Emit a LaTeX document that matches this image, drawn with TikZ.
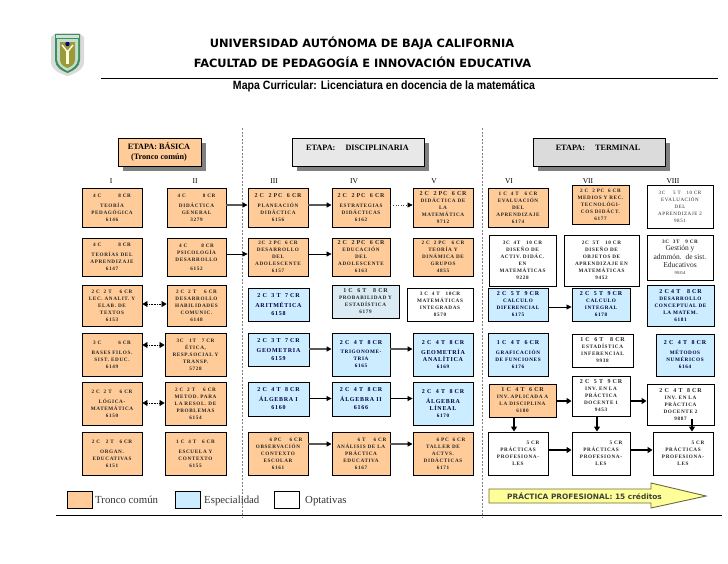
\documentclass[tikz,border=0pt]{standalone}
\usepackage{fontspec}
\setmainfont{Liberation Serif}
\newfontfamily\cf[LetterSpace=12]{Liberation Serif}
\newfontfamily\hf{DejaVu Sans}
\newfontfamily\tf{Liberation Sans}
\usetikzlibrary{arrows.meta}
\definecolor{tronco}{HTML}{FFCC99}
\definecolor{espec}{HTML}{CCECFF}
\definecolor{probc}{HTML}{DAEBF3}
\definecolor{arrowy}{HTML}{FFFF99}
\definecolor{olive}{HTML}{6B6B3A}
\definecolor{logog}{HTML}{3E8F5E}
\definecolor{logoo}{HTML}{9A9A3A}
\newcommand\hd[1]{{\fontsize{6}{7}\selectfont #1}}
\tikzset{
  cellbox/.style={draw=black,line width=0.9pt,inner sep=0pt,align=center,
    font=\cf\bfseries\fontsize{5.2}{7}\selectfont,text=black!85},
  org/.style={fill=tronco},
  blu/.style={fill=espec,text=black!75!blue},
  blub/.style={blu,font=\cf\bfseries\fontsize{6}{8}\selectfont},
  prb/.style={fill=probc},
  wht/.style={fill=white},
  arr/.style={line width=0.8pt,-{Triangle[length=5pt,width=5pt]}},
  arrg/.style={line width=1.3pt,draw=black!65,-{Triangle[length=5pt,width=5pt,color=black]}},
  arrb/.style={line width=1.8pt,-{Triangle[length=5pt,width=6pt]}},
  arrd/.style={line width=0.6pt,dotted,draw=black!70,-{Triangle[length=5pt,width=5pt,color=black]}},
  arrdd/.style={line width=0.6pt,densely dotted,{Triangle[length=5pt,width=6pt]}-{Triangle[length=5pt,width=6pt]}},
  sep/.style={draw=black!50,line width=0.45pt,dash pattern=on 2pt off 1.5pt},
  etapa/.style={draw=black,line width=0.8pt,inner sep=0pt,align=center},
  etxt/.style={inner sep=0pt,align=center,font=\bfseries\fontsize{8.2}{10}\selectfont},
  numeral/.style={font=\fontsize{7.5}{9}\selectfont,inner sep=0pt},
  legbox/.style={draw=black,line width=0.8pt,minimum width=25pt,minimum height=16.5pt,inner sep=0pt},
  legtxt/.style={font=\fontsize{10.8}{12}\selectfont,anchor=base west,inner sep=0pt,text=black!80},
  ttl/.style={inner sep=0pt,font=\hf\bfseries\fontsize{11.4}{13}\selectfont},
  rule/.style={draw=black,line width=0.8pt}
}
\newcommand\cell[7]{\node[cellbox,#6,minimum width={(#4-#2)*1pt},minimum height={(#5-#3)*1pt}]
  (#1) at ({(#2+#4)/2},{(#3+#5)/2}) {#7};}
\newcommand\etapabox[6]{%
  \fill[black!50] (#2+5,#3+5) rectangle (#4+5,#5+5);
  \node[etapa,#6] (#1) at ({(#2+#4)/2},{(#3+#5)/2}) [minimum width={(#4-#2)*1pt},minimum height={(#5-#3)*1pt}] {};}
\newcommand\hconn[4]{\draw[#1] (#2.east |- 0,#4) -- (#3.west |- 0,#4);}
\begin{document}
\begin{tikzpicture}[x=1pt,y=-1pt]
\useasboundingbox (0,0) rectangle (728,563);
% logo
\fill[black!14] (51,37) -- (56,33) -- (79,33) -- (84,37) -- (84,62) .. controls (84,70) and (74,74) .. (67.5,76) .. controls (61,74) and (51,70) .. (51,62) -- cycle;
\fill[logog] (55,34) -- (80,34) -- (80,60) .. controls (80,67) and (73,71) .. (67.5,73) .. controls (62,71) and (55,67) .. (55,60) -- cycle;
\fill[white!75!logog] (56,35) rectangle (79,38);
\fill[white!70!logog] (57,39) -- (78,39) -- (78,59) .. controls (78,65) and (72,69) .. (67.5,71) .. controls (63,69) and (57,65) .. (57,59) -- cycle;
\fill[logoo] (60,42) -- (75,42) -- (75,60) .. controls (75,65) and (70,67) .. (67.5,68) .. controls (65,67) and (60,65) .. (60,60) -- cycle;
\fill[blue!55!black] (67.5,44) circle (2.2);
\draw[white!85!yellow,line width=1.5pt] (62,45) -- (67.5,52) -- (73,45);
\draw[white!85!yellow,line width=2.2pt] (67.5,50) -- (67.5,64);
% titles
\node[ttl] (t1) at (362,43) {UNIVERSIDAD AUTÓNOMA DE BAJA CALIFORNIA};
\node[ttl] (t2) at (362.5,62) {FACULTAD DE PEDAGOGÍA E INNOVACIÓN EDUCATIVA};
\coordinate (rl) at (101,78);\coordinate (rr) at (718,78);
\draw[rule] (rl) -- (rr);
\node[inner sep=0pt,font=\tf\bfseries,xscale=.88] (t3) at (384,86) {\fontsize{12}{14}\selectfont Mapa Curricular: Licenciatura en docencia de la matemática};
% separators
\coordinate (s1a) at (242,128);\coordinate (s1b) at (242,517);
\coordinate (s2a) at (482,128);\coordinate (s2b) at (482,517);
\draw[sep] (s1a) -- (s1b);
\draw[sep] (s2a) -- (s2b);
\coordinate (bl) at (56,515);\coordinate (br) at (722,515);
\draw[rule] (bl) -- (br);
% etapas
\etapabox{eb}{118}{138}{201}{166}{fill=tronco}
\etapabox{ed}{292}{138}{424}{166}{fill=black!9}
\etapabox{et}{533}{138}{665}{166}{fill=black!14}
\node[etxt] (ebt) at (159,152) {ETAPA: BÁSICA\\(Tronco común)};
\node[etxt] (edt) at (357.5,147.5) {ETAPA:\hspace{8pt} DISCIPLINARIA};
\node[etxt] (ett) at (598,147.5) {ETAPA:\hspace{8pt} TERMINAL};
% numerals
\foreach \nm/\nx in {I/111,II/195,III/274,IV/354,V/434,VI/509,VII/588,VIII/673}
  \node[numeral] (n\nm) at (\nx,181) {\nm};
% row 1
\cell{a1}{82}{188}{142}{227}{org}{4 C\hspace{17pt}8 CR\\[3pt]TEORÍA\\PEDAGÓGICA\\6146}
\cell{b1}{167}{188}{226}{227}{org}{4 C\hspace{17pt}8 CR\\[3pt]DIDÁCTICA\\GENERAL\\3279}
\cell{c1}{248}{188}{308}{227}{org}{\hd{2 C\ \ 2 PC\ \ 6 CR}\\[3pt]PLANEACIÓN\\DIDÁCTICA\\6156}
\cell{d1}{332}{188}{390}{227}{org}{\hd{2 C\ \ 2 PC\ \ 6 CR}\\[3pt]ESTRATEGIAS\\DIDÁCTICAS\\6162}
\cell{e1}{413}{188}{473}{227}{org}{\hd{2 C\ \ 2 PC\ \ 6 CR}\\DIDÁCTICA DE\\LA\\MATEMÁTICA\\9712}
\cell{f1}{488}{188}{548}{227}{org}{1 C\ \ 4 T\ \ \ 6 CR\\EVALUACIÓN\\DEL\\APRENDIZAJE\\6174}
\cell{g1}{572}{185}{629}{224}{org}{2 C\ \ 2 PC\ \ 6 CR\\MEDIOS Y REC.\\TECNOLÓGI-\\COS DIDÁCT.\\6177}
\cell{h1}{647}{185}{713}{228}{wht,font=\cf\fontsize{5}{7}\selectfont}{3C\hspace{8pt}5 T\hspace{6pt}10 CR\\EVALUACIÓN\\DEL\\APRENDIZAJE 2\\9851}
% row 2
\cell{a2}{82}{238}{142}{276}{org}{4 C\hspace{17pt}8 CR\\[3pt]TEORÍAS DEL\\APRENDIZAJE\\6147}
\cell{b2}{167}{238}{226}{276}{org}{4 C\hspace{14pt}8 CR\\PSICOLOGÍA\\DESARROLLO\\[2pt]6152}
\cell{c2}{248}{238}{308}{276}{org}{2C\ \ 2 PC\ \ 6 CR\\DESARROLLO\\DEL\\ADOLESCENTE\\6157}
\cell{d2}{332}{238}{390}{276}{org}{\hd{2 C\ \ 2 PC\ \ 6 CR}\\EDUCACIÓN\\DEL\\ADOLESCENTE\\6163}
\cell{e2}{413}{238}{473}{276}{org}{2 C\ \ 2 PC\ \ \ 6 CR\\TEORÍA Y\\DINÁMICA DE\\GRUPOS\\4855}
\cell{f2}{489}{235}{556}{286}{wht}{3C\ \ 4T\ \ \ 10 CR\\DISEÑO DE\\ACTIV. DIDÁC.\\EN\\MATEMÁTICAS\\9228}
\cell{g2}{564}{235}{639}{286}{wht}{2C\ \ 5T\ \ \ 10 CR\\DISEÑO DE\\OBJETOS DE\\APRENDIZAJE EN\\MATEMÁTICAS\\9452}
\cell{h2}{647}{235}{713}{280}{wht}{3C\ \ 3T\ \ \ 9 CR\\{\fontspec{Liberation Serif}\mdseries\fontsize{7.5}{10}\selectfont Gestión y}\\[2pt]{\fontspec{Liberation Serif}\mdseries\fontsize{7.5}{10}\selectfont admmón.\ \ de sist.}\\[1pt]{\fontspec{Liberation Serif}\mdseries\fontsize{7.5}{10}\selectfont Educativos}\\{\mdseries\fontsize{4.5}{6}\selectfont 9804}}
% row 3
\cell{a3}{82}{285}{142}{326}{org}{2 C\ \ 2 T\hspace{8pt}6 CR\\LEC. ANALIT. Y\\ELAB. DE\\TEXTOS\\6153}
\cell{b3}{167}{285}{226}{326}{org}{2 C\ \ 2 T\hspace{8pt}6 CR\\DESARROLLO\\HABILIDADES\\COMUNIC.\\6148}
\cell{c3}{248}{288}{309}{321}{blub}{2 C\ \ 3 T\ \ 7 CR\\[2pt]ARITMÉTICA\\6158}
\cell{d3}{332}{285}{399}{318}{prb}{\hd{1 C\ \ 6 T\ \ \ 8 CR}\\PROBABILIDAD Y\\ESTADÍSTICA\\6179}
\cell{e3}{407}{288}{473}{321}{wht}{3 C\ \ 4 T\ \ \ 10CR\\MATEMÁTICAS\\INTEGRADAS\\8570}
\cell{f3}{488}{288}{548}{321}{blu}{\hd{2 C\ \ 5 T\ \ 9 CR}\\CALCULO\\DIFERENCIAL\\6175}
\cell{g3}{572}{288}{630}{321}{blu}{\hd{2 C\ \ 5 T\ \ 9 CR}\\CALCULO\\INTEGRAL\\6178}
\cell{h3}{647}{285}{714}{326}{blu}{\hd{2 C 4 T\ \ \ 8 CR}\\DESARROLLO\\CONCEPTUAL DE\\LA MATEM.\\6181}
% row 4
\cell{a4}{82}{333}{142}{376}{org}{3 C\hspace{17pt}6 CR\\[3pt]BASES FILOS.\\SIST. EDUC.\\6149}
\cell{b4}{165}{333}{226}{376}{org}{3C\ \ \ 1T\ \ \ 7 CR\\ÉTICA,\\RESP.SOCIAL Y\\TRANSP.\\5728}
\cell{c4}{248}{333}{309}{366}{blub}{2 C\ \ 3 T\ \ 7 CR\\[2pt]GEOMETRIA\\6159}
\cell{d4}{332}{333}{390}{376}{blu}{\hd{2 C\ \ 4 T\ \ 8 CR}\\[2pt]TRIGONOME-\\TRIA\\6165}
\cell{e4}{413}{333}{473}{376}{blu}{\hd{2 C\ \ 4 T\ \ 8 CR}\\[3pt]\hd{GEOMETRÍA}\\\hd{ANALÍTICA}\\6169}
\cell{f4}{488}{333}{548}{376}{blu}{\hd{1 C\ \ 4 T\ \ 6 CR}\\[3pt]GRAFICACIÓN\\DE FUNCIONES\\6176}
\cell{g4}{572}{334}{633}{367}{wht}{\hd{1 C\ \ 6 T\ \ \ 8 CR}\\ESTADÍSTICA\\INFERENCIAL\\9938}
\cell{h4}{656}{334}{714}{376}{blu}{\hd{2 C\ \ 4 T\ \ 8 CR}\\[3pt]MÉTODOS\\NUMÉRICOS\\6164}
% row 5
\cell{a5}{82}{382}{142}{425}{org}{2 C\ \ 2 T\hspace{8pt}6 CR\\[3pt]LÓGICA-\\MATEMÁTICA\\6150}
\cell{b5}{165}{382}{226}{425}{org}{2 C\ \ 2 T\hspace{8pt}6 CR\\METOD. PARA\\LA RESOL. DE\\PROBLEMAS\\6154}
\cell{c5}{248}{382}{309}{416}{blub}{2 C\ \ 4 T\ \ 8 CR\\[2pt]ÁLGEBRA I\\6160}
\cell{d5}{332}{382}{390}{416}{blub}{2 C\ \ 4 T\ \ 8 CR\\[2pt]ÁLGEBRA II\\6166}
\cell{e5}{413}{382}{473}{425}{blu}{\hd{2 C\ \ 4 T\ \ 8 CR}\\[3pt]\hd{ÁLGEBRA}\\\hd{LÍNEAL}\\6170}
\cell{f5}{489}{384}{556}{417}{org}{\hd{1 C\ \ 4 T\ \ 6 CR}\\INV. APLICADA A\\LA DISCIPLINA\\6180}
\cell{g5}{572}{376}{630}{416}{wht}{\hd{2 C\ \ 5 T\ \ 9 CR}\\INV. EN LA\\PRÁCTICA\\DOCENTE 1\\9453}
\cell{h5}{647}{384}{714}{425}{wht}{\hd{2 C\ \ 4 T\ \ 8 CR}\\INV. EN LA\\PRÁCTICA\\DOCENTE 2\\9887}
% row 6
\cell{a6}{82}{432}{142}{475}{org}{2 C\ \ \ 2 T\ \ \ 6 CR\\[3pt]ORGAN.\\EDUCATIVAS\\6151}
\cell{b6}{165}{432}{226}{475}{org}{1 C\ \ 4 T\ \ \ 6 CR\\[3pt]ESCUELA Y\\CONTEXTO\\6155}
\cell{c6}{248}{432}{308}{475}{org}{\hspace*{16pt}6 PC\hspace{8pt}6 CR\\OBSERVACIÓN\\CONTEXTO\\ESCOLAR\\6161}
\cell{d6}{332}{432}{390}{475}{org}{\hspace*{22pt}6 T\hspace{8pt}6 CR\\ANÁLISIS DE LA\\PRÁCTICA\\EDUCATIVA\\6167}
\cell{e6}{413}{432}{473}{475}{org}{\hspace*{16pt}6 PC\ \ 6 CR\\TALLER DE\\ACTVS.\\DIDÁCTICAS\\6171}
\cell{f6}{488}{432}{548}{475}{wht}{\hspace*{30pt}5 CR\\PRÁCTICAS\\PROFESIONA-\\LES}
\cell{g6}{572}{432}{630}{475}{wht}{\hspace*{30pt}5 CR\\PRÁCTICAS\\PROFESIONA-\\LES}
\cell{h6}{653}{432}{713}{475}{wht}{\hspace*{30pt}5 CR\\PRÁCTICAS\\PROFESIONA-\\LES}
% connectors
\hconn{arrg}{b1}{c1}{205}
\hconn{arrg}{c1}{d1}{205}
\hconn{arrd}{d1}{e1}{205}
\hconn{arr}{b2}{c2}{254}
\hconn{arr}{c2}{d2}{254}
\hconn{arrdd}{a3}{b3}{304}
\hconn{arrdd}{a4}{b4}{345}
\hconn{arrdd}{a5}{b5}{403}
\hconn{arrg}{c4}{d4}{349}
\hconn{arrg}{d4}{e4}{349}
\hconn{arr}{c5}{d5}{398.5}
\hconn{arr}{d5}{e5}{398.5}
\hconn{arrg}{c6}{d6}{444}
\hconn{arrg}{d6}{e6}{444}
\hconn{arr}{f3}{g3}{307}
\hconn{arrb}{f5}{g5}{401}
\hconn{arrb}{g5}{h5}{401}
\hconn{arrb}{f6}{g6}{450}
\hconn{arrb}{g6}{h6}{450}
\draw[arrb] (f5.south -| 514,0) -- (f6.north -| 514,0);
\draw[arrb] (g5.south -| 597,0) -- (g6.north -| 597,0);
\draw[arrb] (h5.south -| 692,0) ++(0,-6) -- (h6.north -| 692,0);
% legend
\node[legbox,fill=tronco] (l1) at (80,500) {};
\node[legtxt] (l1t) at (95,503.5) {Tronco común};
\node[legbox,fill=espec] (l2) at (188,500) {};
\node[legtxt] (l2t) at (204,503.5) {Especialidad};
\node[legbox,fill=white] (l3) at (287,500) {};
\node[legtxt] (l3t) at (305,503.5) {Optativas};
% big arrow
\draw[draw=olive,line width=0.9pt,fill=arrowy] (489,489) -- (651,489) -- (651,483) -- (706,496) -- (651,508) -- (651,503) -- (489,503) -- cycle;
\node[inner sep=0pt,anchor=west,font=\hf\bfseries\fontsize{7.4}{9}\selectfont,text=black!75] (pp) at (507,496) {PRÁCTICA PROFESIONAL: 15 créditos};
\end{tikzpicture}
\end{document}
